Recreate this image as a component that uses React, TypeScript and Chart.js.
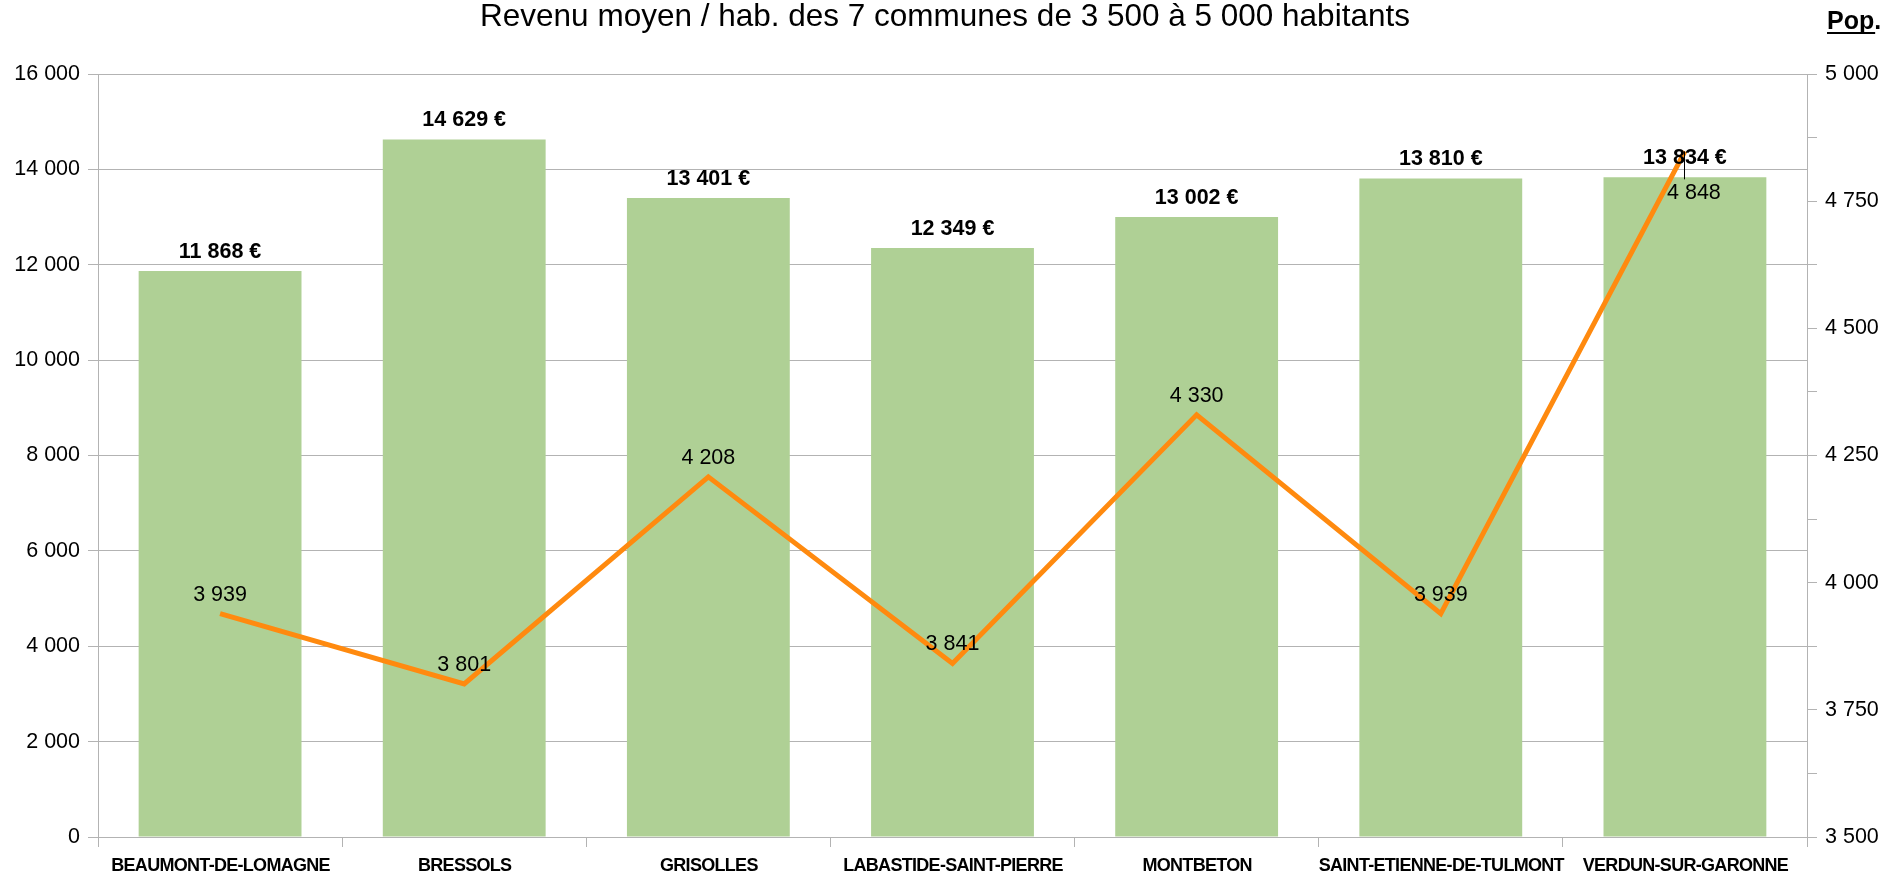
import React, { useEffect, useRef } from "react";
import { Chart, registerables } from "chart.js";

Chart.register(...registerables);

const categories = [
  "BEAUMONT-DE-LOMAGNE",
  "BRESSOLS",
  "GRISOLLES",
  "LABASTIDE-SAINT-PIERRE",
  "MONTBETON",
  "SAINT-ETIENNE-DE-TULMONT",
  "VERDUN-SUR-GARONNE",
];
const revenue = [11868, 14629, 13401, 12349, 13002, 13810, 13834];
const population = [3939, 3801, 4208, 3841, 4330, 3939, 4848];

const titleText = "Revenu moyen / hab. des 7 communes de 3 500 à 5 000 habitants";
const rightAxisTitle = "Pop.";

const FONT = "'Liberation Sans', Arial, sans-serif";
const GRID = "#b3b3b3";
const BAR = "#afd095";
const LINE = "#ff8a0f";

const fmt = (v: number) =>
  String(Math.round(v)).replace(/\B(?=(\d{3})+(?!\d))/g, " ");

const labelsPlugin = {
  id: "customLabels",
  afterDraw(chart: any) {
    const ctx = chart.ctx;
    ctx.save();
    // title
    ctx.fillStyle = "#000";
    ctx.textAlign = "center";
    ctx.textBaseline = "middle";
    ctx.font = `31.5px ${FONT}`;
    ctx.fillText(titleText, 945, 17);

    // Pop. title
    ctx.font = `bold 25px ${FONT}`;
    ctx.textAlign = "left";
    ctx.textBaseline = "alphabetic";
    const pw = ctx.measureText(rightAxisTitle).width;
    ctx.fillText(rightAxisTitle, 1827, 29);
    ctx.fillRect(1827, 32, pw - 6, 2);

    // bar labels
    const barMeta = chart.getDatasetMeta(0);
    ctx.font = `bold 21.5px ${FONT}`;
    ctx.textAlign = "center";
    ctx.textBaseline = "middle";
    barMeta.data.forEach((el: any, i: number) => {
      ctx.fillText(fmt(revenue[i]) + " €", el.x, el.y - 19);
    });

    // line labels
    const lineMeta = chart.getDatasetMeta(1);
    ctx.font = `21.5px ${FONT}`;
    lineMeta.data.forEach((el: any, i: number) => {
      if (i === lineMeta.data.length - 1) {
        ctx.fillText(fmt(population[i]), el.x + 9, el.y + 42);
        ctx.strokeStyle = "#000";
        ctx.lineWidth = 1;
        ctx.beginPath();
        ctx.moveTo(Math.round(el.x) - 0.5, el.y);
        ctx.lineTo(Math.round(el.x) - 0.5, el.y + 28);
        ctx.stroke();
      } else {
        ctx.fillText(fmt(population[i]), el.x, el.y - 19);
      }
    });

    // category labels
    const xs = chart.scales.x;
    ctx.font = `bold 18px ${FONT}`;
    (ctx as any).letterSpacing = "-0.7px";
    categories.forEach((c, i) => {
      ctx.fillText(c, xs.getPixelForValue(i) + 0.5, 866);
    });
    (ctx as any).letterSpacing = "0px";
    ctx.restore();
  },
};

export default function App() {
  const ref = useRef<HTMLCanvasElement | null>(null);
  useEffect(() => {
    if (!ref.current) return;
    const chart = new Chart(ref.current, {
      type: "bar",
      data: {
        labels: categories,
        datasets: [
          {
            type: "bar",
            data: revenue,
            backgroundColor: BAR,
            borderWidth: 0,
            categoryPercentage: 1,
            barPercentage: 0.667,
            yAxisID: "y",
            order: 2,
          },
          {
            type: "line",
            data: population,
            borderColor: LINE,
            borderWidth: 5,
            pointRadius: 0,
            tension: 0,
            yAxisID: "y1",
            order: 1,
          } as any,
        ],
      },
      options: {
        responsive: false,
        animation: false,
        layout: { padding: { top: 74, left: 0, right: 0, bottom: 0 } },
        plugins: {
          legend: { display: false },
          title: { display: false },
          tooltip: { enabled: false },
        },
        scales: {
          x: {
            grid: {
              display: true,
              drawOnChartArea: false,
              drawTicks: true,
              tickLength: 10,
              color: GRID,
              offset: true,
            },
            border: { color: GRID, width: 1 },
            ticks: { display: false },
            afterFit: (s: any) => {
              s.height = 39;
            },
          },
          y: {
            position: "left",
            min: 0,
            max: 16000,
            ticks: {
              stepSize: 2000,
              padding: 8,
              color: "#000",
              font: { family: FONT, size: 21.5 },
              callback: (v: any) => fmt(Number(v)),
            },
            grid: { color: GRID, tickLength: 10, lineWidth: 1 },
            border: { color: GRID, width: 1 },
            afterFit: (s: any) => {
              s.width = 98;
            },
          },
          y1: {
            position: "right",
            min: 3500,
            max: 5000,
            ticks: {
              stepSize: 125,
              padding: 8,
              color: "#000",
              autoSkip: false,
              font: { family: FONT, size: 21.5 },
              callback: (v: any) =>
                (Number(v) - 3500) % 250 === 0 ? fmt(Number(v)) : "",
            },
            grid: { drawOnChartArea: false, color: GRID, tickLength: 10 },
            border: { color: GRID, width: 1 },
            afterFit: (s: any) => {
              s.width = 82;
            },
          },
        },
      },
      plugins: [labelsPlugin],
    });
    return () => chart.destroy();
  }, []);
  return (
    <div style={{ position: "absolute", left: 0, top: 0, width: 1889, height: 876 }}>
      <canvas ref={ref} width={1889} height={876} />
    </div>
  );
}
